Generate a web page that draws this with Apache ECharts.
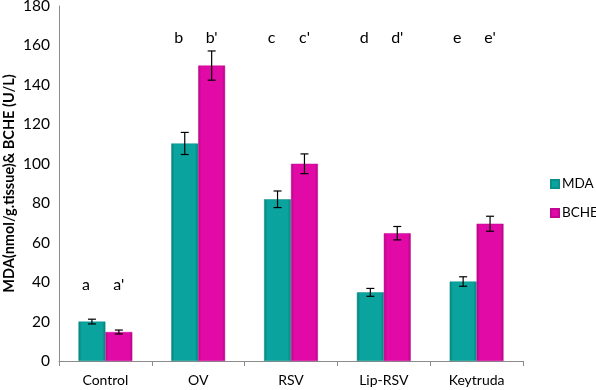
<!DOCTYPE html>
<html><head><meta charset="utf-8">
<script src="https://cdn.jsdelivr.net/npm/echarts@6/dist/echarts.min.js"></script>
<style>html,body{margin:0;padding:0;background:#fff}#c{width:596px;height:390px}</style>
</head><body><div id="c"></div>
<script>
var categories = ['Control', 'OV', 'RSV', 'Lip-RSV', 'Keytruda'];
var mdaValues = [20, 110.3, 82, 34.8, 40.3];
var mdaErrors = [1.2, 5.6, 4.2, 2, 2.4];
var bcheValues = [14.7, 149.8, 100, 64.8, 69.6];
var bcheErrors = [1, 7.4, 5, 3.4, 3.8];
var mdaLetters = ['a', 'b', 'c', 'd', 'e'];
var bcheLetters = ["a'", "b'", "c'", "d'", "e'"];
var letterHeights = [38.5, 164, 164, 164, 164];
var yTicks = [0, 20, 40, 60, 80, 100, 120, 140, 160, 180];

var FONT = 'Lato';
var catGap = 0.42;

function grad(c1, c2) {
  return new echarts.graphic.LinearGradient(0, 0, 1, 0, [
    {offset: 0, color: c2}, {offset: 0.12, color: c1}, {offset: 0.88, color: c1}, {offset: 1, color: c2}
  ]);
}

function barX(api, i, side) {
  var band = api.size([1, 0])[0];
  var bw = band * (1 - catGap) / 2;
  return api.coord([i, 0])[0] + side * bw / 2;
}

function errSeries(values, errors, side) {
  return {
    type: 'custom',
    data: values.map(function (v, i) { return [i, v, errors[i]]; }),
    z: 10,
    renderItem: function (params, api) {
      var i = api.value(0), v = api.value(1), e = api.value(2);
      var x = barX(api, i, side);
      var yt = api.coord([i, v + e])[1];
      var yb = api.coord([i, v - e])[1];
      var cap = 4;
      var st = {stroke: '#000', lineWidth: 1.2};
      return {type: 'group', children: [
        {type: 'line', shape: {x1: x, y1: yt, x2: x, y2: yb}, style: st},
        {type: 'line', shape: {x1: x - cap, y1: yt, x2: x + cap, y2: yt}, style: st},
        {type: 'line', shape: {x1: x - cap, y1: yb, x2: x + cap, y2: yb}, style: st}
      ]};
    }
  };
}

function letterSeries(letters, side, dx) {
  return {
    type: 'custom',
    silent: true,
    z: 10,
    data: letters.map(function (t, i) { return [i, letterHeights[i]]; }),
    renderItem: function (params, api) {
      var i = api.value(0);
      var x = barX(api, i, side) + dx;
      var y = api.coord([i, api.value(1)])[1];
      return {type: 'text', x: x, y: y, style: {
        text: letters[i], fill: '#000', font: '16px ' + FONT, align: 'center', verticalAlign: 'middle'
      }};
    }
  };
}

var chart = echarts.init(document.getElementById('c'), null, {renderer: 'canvas'});
chart.setOption({
  animation: false,
  grid: {left: 59, right: 73, top: 6, bottom: 29, containLabel: false, outerBoundsMode: 'none'},
  legend: {
    orient: 'vertical', left: 545, top: 172, itemWidth: 8, itemHeight: 8, itemGap: 15,
    icon: 'rect',
    textStyle: {fontFamily: FONT, fontSize: 13.5, color: '#000', padding: [0, 0, 0, -2]},
    data: ['MDA', 'BCHE']
  },
  xAxis: {
    type: 'category', data: categories,
    axisLine: {lineStyle: {color: '#8c8c8c', width: 1}},
    axisTick: {show: true, length: 5, lineStyle: {color: '#8c8c8c'}},
    axisLabel: {color: '#000', fontFamily: FONT, fontSize: 14, margin: 12}
  },
  yAxis: {
    type: 'value', min: 0, max: 180, interval: 20,
    axisLine: {show: true, lineStyle: {color: '#8c8c8c'}},
    axisTick: {show: false},
    splitLine: {show: false},
    axisLabel: {color: '#000', fontFamily: FONT, fontSize: 15.5, margin: 9,
      formatter: function (v) { return yTicks.indexOf(v) >= 0 ? String(v) : ''; }},
    name: 'MDA(nmol/g.tissue)& BCHE (U/L)',
    nameLocation: 'middle', nameGap: 42, nameMoveOverlap: false,
    nameTextStyle: {fontFamily: FONT, fontSize: 14.5, fontWeight: 'bold', color: '#000'}
  },
  series: [
    {name: 'MDA', type: 'bar', data: mdaValues, barGap: '0%', barCategoryGap: (catGap * 100) + '%',
      itemStyle: {color: grad('#0aa39e', '#067f7a'), borderColor: '#0a8f8a', borderWidth: 0.5}},
    {name: 'BCHE', type: 'bar', data: bcheValues, barGap: '0%', barCategoryGap: (catGap * 100) + '%',
      itemStyle: {color: grad('#e10aa6', '#b30685'), borderColor: '#c20890', borderWidth: 0.5}},
    errSeries(mdaValues, mdaErrors, -1),
    errSeries(bcheValues, bcheErrors, 1),
    letterSeries(mdaLetters, -1, -6),
    letterSeries(bcheLetters, 1, 0)
  ]
});
</script></body></html>
